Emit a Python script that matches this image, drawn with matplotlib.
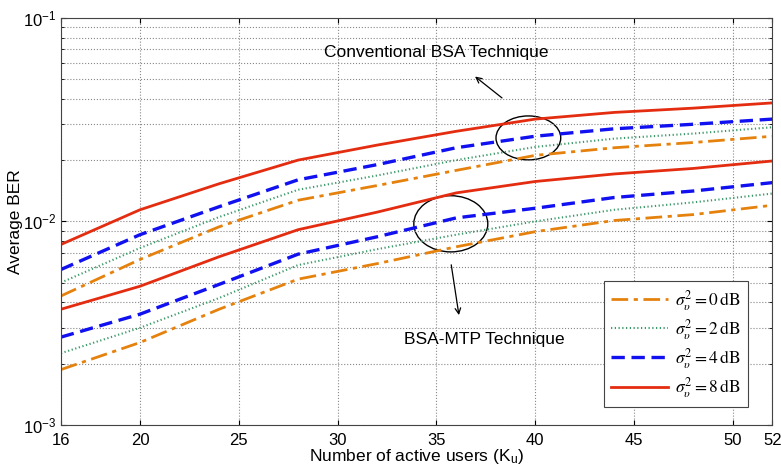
import numpy as np
import matplotlib
matplotlib.use("Agg")
import matplotlib.pyplot as plt
from matplotlib.patches import Ellipse

plt.rcParams["font.family"] = ["Liberation Sans", "DejaVu Sans"]
plt.rcParams["mathtext.fontset"] = "stix"

ORANGE = "#E5820E"
GREEN  = "#3C9A6A"
BLUE   = "#1010F0"
RED    = "#E42D10"

users = [16, 20, 24, 28, 32, 36, 40, 44, 48, 52]

# conventional BSA (upper group)
conv_0dB = [0.0043, 0.0065, 0.0094, 0.0127, 0.0150, 0.0178, 0.0211, 0.0230, 0.0244, 0.0262]
conv_2dB = [0.0050, 0.0074, 0.0105, 0.0143, 0.0168, 0.0200, 0.0232, 0.0255, 0.0270, 0.0290]
conv_4dB = [0.0058, 0.0086, 0.0118, 0.0160, 0.0190, 0.0230, 0.0262, 0.0285, 0.0300, 0.0318]
conv_8dB = [0.0077, 0.0114, 0.0153, 0.0200, 0.0237, 0.0277, 0.0318, 0.0343, 0.0360, 0.0382]

# BSA-MTP (lower group)
mtp_0dB = [0.00187, 0.00254, 0.0037, 0.0052, 0.0062, 0.0075, 0.0089, 0.0101, 0.0108, 0.0120]
mtp_2dB = [0.00225, 0.0030, 0.0042, 0.0061, 0.0073, 0.0086, 0.0100, 0.0114, 0.0124, 0.0137]
mtp_4dB = [0.0027, 0.0035, 0.0049, 0.0069, 0.0084, 0.0104, 0.0116, 0.0131, 0.0141, 0.0155]
mtp_8dB = [0.0037, 0.0048, 0.0067, 0.0091, 0.0111, 0.0138, 0.0157, 0.0171, 0.0182, 0.0198]

x_ticks = [16, 20, 25, 30, 35, 40, 45, 50, 52]

fig = plt.figure(figsize=(7.81, 4.69), dpi=100)
ax = fig.add_axes([0.078, 0.094, 0.911, 0.868])

styles = [
    (conv_0dB, mtp_0dB, ORANGE, (0, (6, 2, 1.5, 2)), 2.0, r"$\sigma_{\upsilon}^{2}=0\,\mathrm{dB}$"),
    (conv_2dB, mtp_2dB, GREEN,  (0, (0.6, 1.2)),     1.5, r"$\sigma_{\upsilon}^{2}=2\,\mathrm{dB}$"),
    (conv_4dB, mtp_4dB, BLUE,   (0, (4, 2)),         2.4, r"$\sigma_{\upsilon}^{2}=4\,\mathrm{dB}$"),
    (conv_8dB, mtp_8dB, RED,    "-",                 2.0, r"$\sigma_{\upsilon}^{2}=8\,\mathrm{dB}$"),
]
for conv, mtp, col, ls, lw, lbl in styles:
    ax.plot(users, conv, color=col, linestyle=ls, linewidth=lw, label=lbl)
    ax.plot(users, mtp, color=col, linestyle=ls, linewidth=lw)

ax.set_yscale("log")
ax.set_xlim(16, 52)
ax.set_ylim(1e-3, 1e-1)
ax.set_xticks(x_ticks)
ax.set_xticklabels([str(t) for t in x_ticks])
ax.tick_params(which="both", direction="in", top=True, right=True, labelsize=12)
ax.tick_params(axis="x", pad=6)
ax.grid(which="major", linestyle=":", color="#888888", linewidth=0.8)
ax.grid(which="minor", axis="y", linestyle=":", color="#888888", linewidth=0.8)
for s in ax.spines.values():
    s.set_color("#444444")

ax.set_xlabel(r"Number of active users (K$_\mathregular{u}$)", fontsize=12.5, labelpad=-1)
ax.set_ylabel("Average BER", fontsize=12.5, labelpad=0)

# ellipses and annotations
ax.add_patch(Ellipse((0.657, 0.705), 0.091, 0.108, transform=ax.transAxes,
                     fill=False, edgecolor="black", linewidth=1.0))
ax.add_patch(Ellipse((0.548, 0.494), 0.104, 0.138, transform=ax.transAxes,
                     fill=False, edgecolor="black", linewidth=1.0))
ax.annotate("", xy=(0.579, 0.860), xytext=(0.623, 0.799), xycoords="axes fraction",
            arrowprops=dict(arrowstyle="->", color="black", lw=0.9))
ax.annotate("", xy=(0.560, 0.263), xytext=(0.548, 0.400), xycoords="axes fraction",
            arrowprops=dict(arrowstyle="->", color="black", lw=0.9))
ax.text(0.527, 0.916, "Conventional BSA Technique", transform=ax.transAxes,
        ha="center", va="center", fontsize=12.5)
ax.text(0.482, 0.211, "BSA-MTP Technique", transform=ax.transAxes,
        ha="left", va="center", fontsize=12.5)

leg = ax.legend(loc="lower right", bbox_to_anchor=(0.965, 0.044), fancybox=False,
                edgecolor="#444444", framealpha=1, fontsize=12.5, handlelength=3.3,
                handletextpad=0.4, labelspacing=0.25, borderpad=0.4, borderaxespad=0)
leg.get_frame().set_linewidth(0.8)

fig.savefig("out.png", dpi=100)
